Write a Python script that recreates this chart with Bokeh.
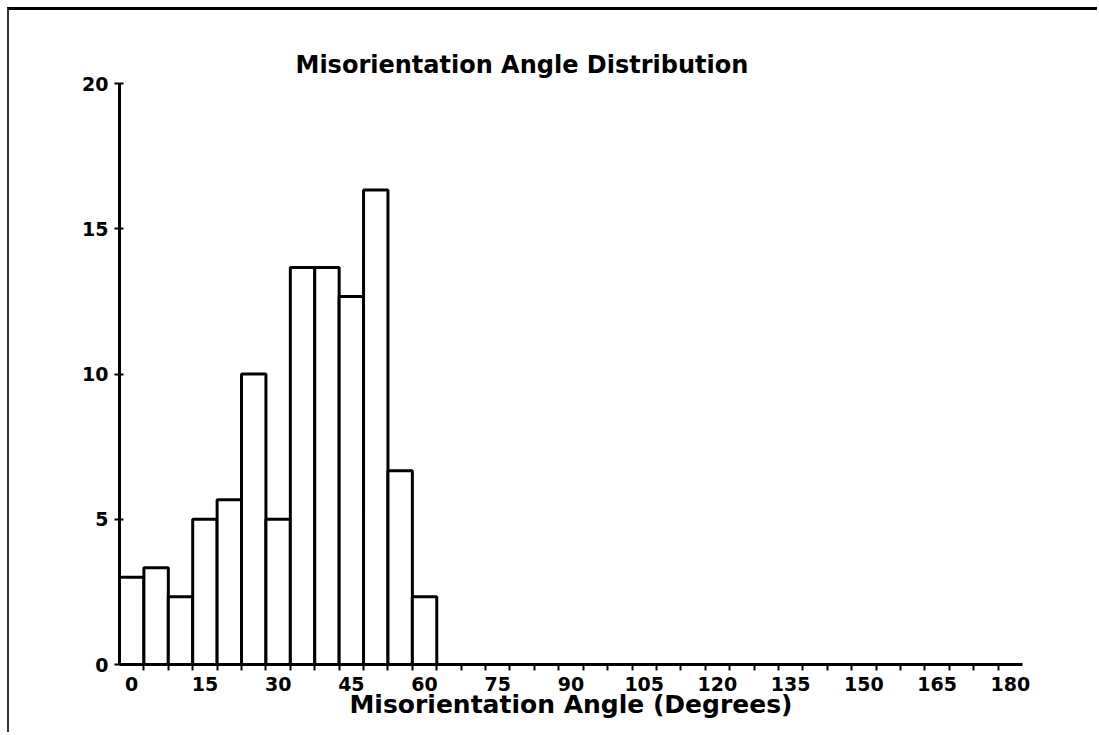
from bokeh.plotting import figure
from bokeh.models import Range1d, FixedTicker, Title
from bokeh.embed import file_html
from bokeh.resources import INLINE

# ---- data ----
bin_centers = [0, 5, 10, 15, 20, 25, 30, 35, 40, 45, 50, 55, 60]
percent = [3.0, 3.33, 2.33, 5.0, 5.67, 10.0, 5.0, 13.67, 13.67, 12.67, 16.33, 6.67, 2.33]
bin_width = 5
all_bins = list(range(0, 185, 5))          # 0 .. 180 degree bins
x_tick_labels = list(range(0, 195, 15))     # 0, 15, ..., 180
y_ticks = [0, 5, 10, 15, 20]

FONT = "DejaVu Sans"

W, H = 1090, 725
p = figure(width=W, height=H, output_backend="svg", toolbar_location=None,
           x_range=Range1d(all_bins[0] - bin_width / 2, all_bins[-1] + bin_width / 2),
           y_range=Range1d(0, 20),
           min_border_left=110, min_border_right=77,
           min_border_top=73, min_border_bottom=71)
p.styles = {"margin-left": "7px", "margin-top": "7px",
            "border-left": "2px solid #333333", "border-top": "3px solid #000000"}

p.title = Title(text="Misorientation Angle Distribution", align="left", offset=176,
                text_font=FONT, text_font_size="24px", text_font_style="bold",
                text_color="black", standoff=9)

p.quad(left=[c - bin_width / 2 for c in bin_centers],
       right=[c + bin_width / 2 for c in bin_centers],
       bottom=0, top=percent,
       fill_color="white", line_color="black", line_width=3)

p.grid.visible = False
p.outline_line_color = None
p.background_fill_color = "white"
p.border_fill_color = "white"

# x axis
xa = p.xaxis[0]
xa.ticker = FixedTicker(ticks=x_tick_labels,
                        minor_ticks=[b + bin_width / 2 for b in all_bins[:-1]])
xa.axis_line_width = 3
xa.axis_line_color = "black"
xa.major_tick_line_color = None
xa.minor_tick_out = 6
xa.minor_tick_in = 0
xa.minor_tick_line_width = 2
xa.minor_tick_line_color = "black"
xa.major_label_text_font = FONT
xa.major_label_text_font_size = "19px"
xa.major_label_text_font_style = "bold"
xa.major_label_text_color = "black"
xa.major_label_standoff = 6
xa.axis_label = "Misorientation Angle (Degrees)"
xa.axis_label_text_font = FONT
xa.axis_label_text_font_size = "25px"
xa.axis_label_text_font_style = "bold"
xa.axis_label_text_color = "black"
xa.axis_label_standoff = -4

# y axis
ya = p.yaxis[0]
ya.ticker = FixedTicker(ticks=y_ticks, minor_ticks=[])
ya.axis_line_width = 3
ya.axis_line_color = "black"
ya.major_tick_in = 4
ya.major_tick_out = 5
ya.major_tick_line_width = 2
ya.major_tick_line_color = "black"
ya.minor_tick_line_color = None
ya.major_label_text_font = FONT
ya.major_label_text_font_size = "19px"
ya.major_label_text_font_style = "bold"
ya.major_label_text_color = "black"
ya.major_label_standoff = 6

open("out.html", "w").write(file_html(p, INLINE))
